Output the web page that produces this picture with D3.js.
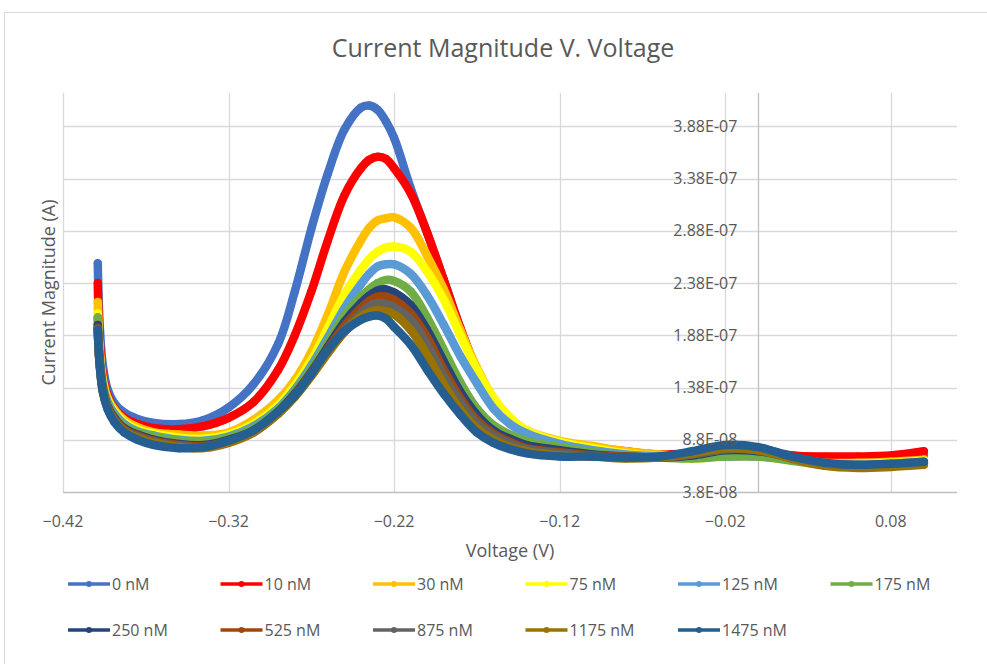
<!DOCTYPE html>
<html>
<head>
<meta charset="utf-8">
<script src="https://cdn.jsdelivr.net/npm/d3@7"></script>
<style>
  body { margin: 0; background: #fff; }
  text { font-family: "Open Sans", "Liberation Sans", sans-serif; fill: #595959; }
</style>
</head>
<body>
<svg id="chart" width="987" height="664"></svg>
<script>
// Voltage sweep (V), shared by all series
var voltage = [-0.399, -0.398, -0.396, -0.393, -0.389, -0.383, -0.375, -0.365, -0.35, -0.335,
               -0.32, -0.305, -0.29, -0.28, -0.27, -0.26, -0.25, -0.24, -0.235, -0.23,
               -0.225, -0.22, -0.21, -0.20, -0.19, -0.18, -0.17, -0.16, -0.15, -0.14,
               -0.12, -0.10, -0.08, -0.06, -0.04, -0.02, 0.00, 0.02, 0.04, 0.06, 0.08, 0.10];

// Current magnitude per concentration, in nA
var nM0    = [257,203,160,136,123,114,108,104,103,107,119,141,180,230,290,343,385,406,408,404,393,377,329,286,241,195,155,126,107,95,85,79,76,73,75,81,80,73,69,70,72,74];
var nM10   = [238,188,151,130,118,109,103,99,98,101,109,124,155,188,230,279,322,348,356,359,357,348,324,286,241,195,155,126,107,95,86,81,77,74,75,79,78,73,72,72,73,77];
var nM30   = [220,179,147,128,117,107,100,95,93,92,95,107,126,145,172,208,249,279,291,298,300,301,291,264,232,193,157,128,109,97,87,82,77,74,72,73,73,70,66,66,67,69];
var nM75   = [209,174,143,126,115,105,98,94,90,89,93,103,121,140,164,195,227,251,261,268,272,273,268,249,222,188,155,128,109,97,86,80,75,72,70,72,72,68,65,65,66,68];
var nM125  = [205,172,141,124,113,103,96,92,88,87,91,101,118,136,159,186,214,237,247,254,256,256,247,226,198,168,142,118,103,94,84,78,74,72,71,72,72,69,65,64,65,67];
var nM175  = [205,169,140,122,111,101,95,91,87,86,90,99,117,134,156,181,207,225,232,238,241,240,230,205,174,143,118,102,93,87,81,76,72,71,70,72,72,68,64,63,64,66];
var nM250  = [198,166,138,120,109,99,93,88,84,83,88,97,115,132,153,177,201,219,226,231,232,229,217,193,163,134,112,97,89,83,78,74,72,71,73,78,77,71,65,63,64,66];
var nM525  = [195,164,137,119,108,98,92,87,83,82,87,96,114,131,152,175,197,214,221,225,225,222,209,186,155,128,107,94,86,80,76,73,72,71,74,79,78,71,64,62,63,65];
var nM875  = [194,163,136,118,107,97,91,86,82,81,86,95,113,130,150,172,193,209,216,219,218,215,203,179,149,124,104,92,84,79,75,72,71,71,74,79,78,71,64,62,63,65];
var nM1175 = [193,163,135,118,106,96,90,85,81,80,85,95,113,129,149,171,191,206,210,212,211,208,193,169,141,117,99,88,81,77,73,72,70,71,75,80,78,70,63,61,62,64];
var nM1475 = [193,163,134,117,105,95,88,83,80,81,87,97,115,130,151,174,192,203,206,207,204,196,179,155,132,112,95,85,79,75,72,72,71,72,77,83,81,72,66,64,65,67];

var seriesNames  = ['0 nM', '10 nM', '30 nM', '75 nM', '125 nM', '175 nM',
                    '250 nM', '525 nM', '875 nM', '1175 nM', '1475 nM'];
var seriesValues = [nM0, nM10, nM30, nM75, nM125, nM175, nM250, nM525, nM875, nM1175, nM1475];
var seriesColors = ['#4472C4', '#FF0000', '#FFC000', '#FFFF00', '#5B9BD5', '#70AD47',
                    '#264478', '#9E480E', '#636363', '#997300', '#255E91'];

var xTicks = [-0.42, -0.32, -0.22, -0.12, -0.02, 0.08];
var yTicks = [3.8e-8, 8.8e-8, 1.38e-7, 1.88e-7, 2.38e-7, 2.88e-7, 3.38e-7, 3.88e-7];

var svg = d3.select('#chart');

// Chart area border
svg.append('rect')
   .attr('x', 4.5).attr('y', 12.5)
   .attr('width', 1000).attr('height', 700)
   .attr('fill', 'none').attr('stroke', '#d9d9d9');

var plot = {left: 63, right: 957, top: 93, bottom: 492};

var x = d3.scaleLinear().domain([-0.42, 0.12]).range([plot.left, plot.right]);
var y = d3.scaleLinear().domain([3.8e-8, 4.2e-7]).range([plot.bottom, plot.top]);

// Excel "General" style scientific label, e.g. 1.38E-07
function sci(v) {
  var parts = v.toExponential(2).split('e');
  var mant = parts[0].replace(/0+$/, '').replace(/\.$/, '');
  var ex = parseInt(parts[1], 10);
  var sign = ex < 0 ? '-' : '+';
  var mag = Math.abs(ex);
  return mant + 'E' + sign + (mag < 10 ? '0' + mag : mag);
}

// Gridlines
var grid = svg.append('g');
grid.selectAll('line.h').data(yTicks.slice(1)).enter().append('line')
    .attr('x1', plot.left).attr('x2', plot.right)
    .attr('y1', function(d) { return Math.round(y(d)) + 0.5; })
    .attr('y2', function(d) { return Math.round(y(d)) + 0.5; })
    .attr('stroke', '#d9d9d9').attr('stroke-width', 1.3);
grid.selectAll('line.v').data(xTicks).enter().append('line')
    .attr('y1', plot.top).attr('y2', plot.bottom)
    .attr('x1', function(d) { return Math.round(x(d)) + 0.5; })
    .attr('x2', function(d) { return Math.round(x(d)) + 0.5; })
    .attr('stroke', '#d9d9d9').attr('stroke-width', 1.3);

// Axis lines: bottom, and the vertical axis crossing at V = 0
svg.append('line')
   .attr('x1', plot.left).attr('x2', plot.right)
   .attr('y1', Math.round(y(3.8e-8)) + 0.5).attr('y2', Math.round(y(3.8e-8)) + 0.5)
   .attr('stroke', '#bfbfbf').attr('stroke-width', 1.3);
svg.append('line')
   .attr('x1', Math.round(x(0)) + 0.5).attr('x2', Math.round(x(0)) + 0.5)
   .attr('y1', plot.top).attr('y2', plot.bottom)
   .attr('stroke', '#bfbfbf').attr('stroke-width', 1.3);

// Series
var line = d3.line()
             .x(function(d) { return x(d[0]); })
             .y(function(d) { return y(d[1]); })
             .curve(d3.curveCatmullRom.alpha(0.5));

var seriesGroup = svg.append('g');
seriesValues.forEach(function(vals, i) {
  var pts = voltage.map(function(v, j) { return [v, vals[j] * 1e-9]; });
  var g = seriesGroup.append('g');
  g.append('path')
   .datum(pts)
   .attr('d', line)
   .attr('fill', 'none')
   .attr('stroke', seriesColors[i])
   .attr('stroke-width', 8.5)
   .attr('stroke-linejoin', 'round')
   .attr('stroke-linecap', 'round');
  g.selectAll('circle').data(pts).enter().append('circle')
   .attr('cx', function(d) { return x(d[0]); })
   .attr('cy', function(d) { return y(d[1]); })
   .attr('r', 4)
   .attr('fill', seriesColors[i]);
});

// Tick labels (drawn after the series, as in the source)
svg.append('g').selectAll('text').data(yTicks).enter().append('text')
   .attr('x', x(0) - 21)
   .attr('y', function(d) { return y(d); })
   .attr('dy', '0.35em')
   .attr('text-anchor', 'end')
   .style('font-size', '16px')
   .text(sci);

svg.append('g').selectAll('text').data(xTicks).enter().append('text')
   .attr('x', function(d) { return x(d); })
   .attr('y', plot.bottom + 35)
   .attr('text-anchor', 'middle')
   .style('font-size', '16px')
   .text(function(d) { return d3.format('.2f')(d); });

// Title and axis titles
svg.append('text')
   .attr('x', 503).attr('y', 57)
   .attr('text-anchor', 'middle')
   .style('font-size', '25px')
   .text('Current Magnitude V. Voltage');

svg.append('text')
   .attr('x', (plot.left + plot.right) / 2).attr('y', 557)
   .attr('text-anchor', 'middle')
   .style('font-size', '18px')
   .text('Voltage (V)');

svg.append('text')
   .attr('transform', 'translate(55,' + ((plot.top + plot.bottom) / 2) + ') rotate(-90)')
   .attr('text-anchor', 'middle')
   .style('font-size', '18px')
   .text('Current Magnitude (A)');

// Legend: two rows of six
var legend = svg.append('g');
seriesNames.forEach(function(name, i) {
  var col = i % 6, row = Math.floor(i / 6);
  var lx = 68 + col * 152.5, ly = 584 + row * 46;
  var item = legend.append('g');
  item.append('line')
      .attr('x1', lx).attr('x2', lx + 42)
      .attr('y1', ly).attr('y2', ly)
      .attr('stroke', seriesColors[i]).attr('stroke-width', 3.5);
  item.append('circle')
      .attr('cx', lx + 21).attr('cy', ly).attr('r', 3)
      .attr('fill', seriesColors[i]);
  item.append('text')
      .attr('x', lx + 44).attr('y', ly)
      .attr('dy', '0.35em')
      .style('font-size', '16px')
      .text(name);
});
</script>
</body>
</html>
